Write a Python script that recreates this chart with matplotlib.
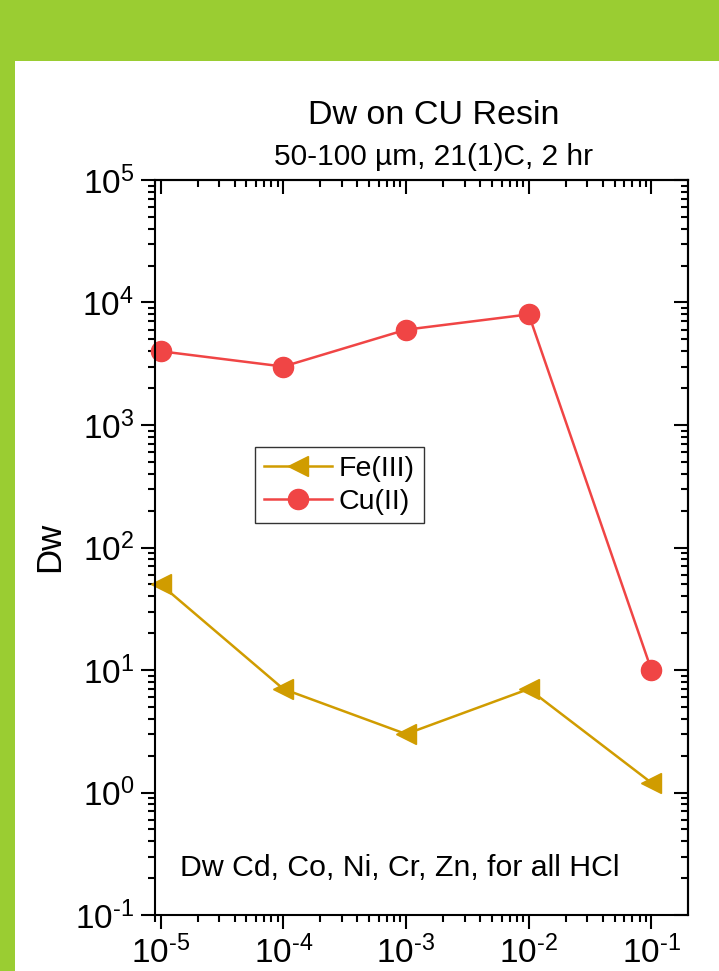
import matplotlib
matplotlib.use("Agg")
import matplotlib.pyplot as plt
from matplotlib.patches import Rectangle
from matplotlib.ticker import LogLocator, NullFormatter

plt.rcParams["font.family"] = ["Liberation Sans", "DejaVu Sans"]
plt.rcParams["mathtext.fontset"] = "custom"
plt.rcParams["mathtext.rm"] = "Liberation Sans"
plt.rcParams["mathtext.it"] = "Liberation Sans:italic"
plt.rcParams["axes.unicode_minus"] = False

# data
hcl = [1e-5, 1e-4, 1e-3, 1e-2, 1e-1]
fe_dw = [50, 7, 3, 7, 1.2]
cu_dw = [4000, 3000, 6000, 8000, 10]
x_ticks = [1e-5, 1e-4, 1e-3, 1e-2, 1e-1]
x_exps = ["-5", "-4", "-3", "-2", "-1"]
y_ticks = [1e-1, 1e0, 1e1, 1e2, 1e3, 1e4, 1e5]
y_exps = ["-1", "0", "1", "2", "3", "4", "5"]


def pow_label(e):
    return r"$\mathregular{10^{\text{%s}}}$" % e


GREEN = "#9ACD32"
FE_COLOR = "#D09C00"
CU_COLOR = "#F04545"

fig = plt.figure(figsize=(7.19, 9.71), dpi=100)
fig.patch.set_facecolor(GREEN)
fig.add_artist(Rectangle((15 / 719, 0), 1, 1 - 61 / 971, transform=fig.transFigure,
                         facecolor="white", edgecolor="none", zorder=0))

ax = fig.add_axes([155 / 719, 1 - 915 / 971, (688 - 155) / 719, (915 - 180) / 971])
ax.set_xscale("log")
ax.set_yscale("log")

ax.plot(hcl, fe_dw, color=FE_COLOR, lw=1.8, marker="<", ms=15, label="Fe(III)", clip_on=False)
ax.plot(hcl, cu_dw, color=CU_COLOR, lw=1.8, marker="o", ms=14.5, label="Cu(II)", clip_on=False)

ax.set_xlim(10 ** -5.046, 10 ** -0.702)
ax.set_ylim(1e-1, 1e5)

ax.set_xticks(x_ticks)
ax.set_xticklabels([pow_label(e) for e in x_exps])
ax.set_yticks(y_ticks)
ax.set_yticklabels([pow_label(e) for e in y_exps])
ax.xaxis.set_minor_locator(LogLocator(base=10, subs=range(2, 10), numticks=20))
ax.yaxis.set_minor_locator(LogLocator(base=10, subs=range(2, 10), numticks=20))
ax.xaxis.set_minor_formatter(NullFormatter())
ax.yaxis.set_minor_formatter(NullFormatter())

ax.tick_params(which="major", direction="out", length=10, width=1.5, labelsize=24, pad=5)
ax.tick_params(which="minor", direction="out", length=5, width=1.5)
for side in ax.spines.values():
    side.set_linewidth(1.5)

# mirrored ticks pointing inward on top and right
top = ax.secondary_xaxis("top")
top.set_xticks(x_ticks)
top.xaxis.set_minor_locator(LogLocator(base=10, subs=range(2, 10), numticks=20))
top.tick_params(which="major", direction="in", length=10, width=1.5, labeltop=False)
top.tick_params(which="minor", direction="in", length=5, width=1.5)
top.xaxis.set_minor_formatter(NullFormatter())
top.spines["top"].set_linewidth(1.5)
right = ax.secondary_yaxis("right")
right.set_yticks(y_ticks)
right.yaxis.set_minor_locator(LogLocator(base=10, subs=range(2, 10), numticks=20))
right.tick_params(which="major", direction="in", length=10, width=1.5, labelright=False)
right.tick_params(which="minor", direction="in", length=5, width=1.5)
right.yaxis.set_minor_formatter(NullFormatter())
right.spines["right"].set_linewidth(1.5)

fig.text(50 / 719, 1 - 547 / 971, "Dw", fontsize=25, rotation=90, ha="center", va="center")

fig.text(434 / 719, 1 - 115 / 971, "Dw on CU Resin", fontsize=24.5, ha="center", va="center")
fig.text(433 / 719, 1 - 157 / 971, "50-100 µm, 21(1)C, 2 hr", fontsize=21.5, ha="center", va="center")

ax.text(0.047, 0.045, "Dw Cd, Co, Ni, Cr, Zn, for all HCl", transform=ax.transAxes,
        fontsize=21.8, ha="left", va="bottom")

leg = ax.legend(loc="upper left", bbox_to_anchor=(255 / 719, 1 - 447 / 971),
                bbox_transform=fig.transFigure, fontsize=20.5, frameon=True, fancybox=False,
                handlelength=2.4, handletextpad=0.25, borderpad=0.3, labelspacing=0.25,
                borderaxespad=0)
leg.get_frame().set_edgecolor("black")
leg.get_frame().set_linewidth(1.0)

fig.savefig("out.png", dpi=100, facecolor=fig.get_facecolor())
